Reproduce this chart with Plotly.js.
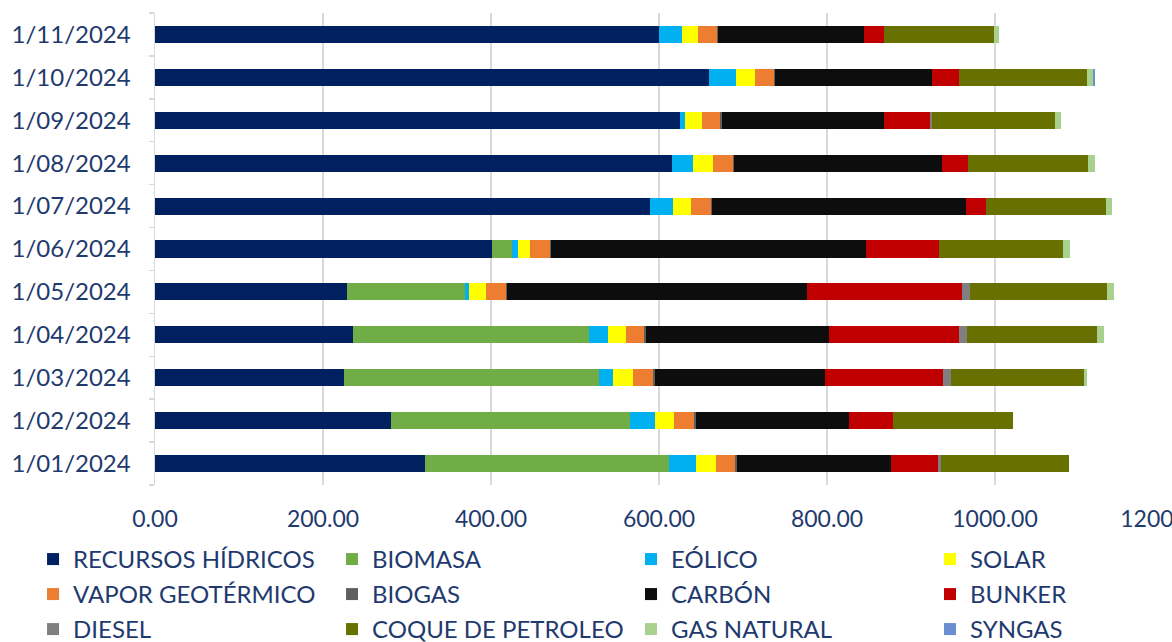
<!DOCTYPE html>
<html>
<head>
<meta charset="utf-8">
<script src="https://cdn.plot.ly/plotly-3.0.1.min.js"></script>
<style>html,body{margin:0;padding:0;background:#fff;}#chart{width:1172px;height:642px;}</style>
</head>
<body>
<div id="chart"></div>
<script>
const months = ["1/01/2024","1/02/2024","1/03/2024","1/04/2024","1/05/2024","1/06/2024","1/07/2024","1/08/2024","1/09/2024","1/10/2024","1/11/2024"];

const hidricos  = [321, 281, 225, 235.5, 229, 401, 589, 616, 625, 660, 600];
const biomasa   = [290.5, 284, 303, 281, 140, 24, 0, 0, 0, 0, 0];
const eolico    = [33, 30, 17, 23, 5, 7, 28, 25, 6, 32, 27];
const solar     = [23, 23, 24, 21.5, 20, 14, 21, 23, 20, 22, 20];
const vapor     = [23, 24, 24, 21.5, 24, 24, 24, 24, 22, 23, 22];
const biogas    = [2, 2.5, 2, 2, 1.5, 1.5, 1.5, 1.5, 1.5, 1.5, 1.5];
const carbon    = [184, 182, 203, 217.5, 357, 375, 301.5, 247.5, 193.5, 186.5, 173.5];
const bunker    = [56, 52.5, 139.5, 155, 184, 87, 24, 31, 55, 32, 24];
const diesel    = [3.5, 0, 10, 10, 10, 0, 0, 0, 2, 0, 0];
const coque     = [151.5, 142.5, 158, 155, 163, 148, 143, 143, 146, 152, 131];
const gasNat    = [0, 0, 4.5, 8, 8, 8, 7, 8, 8, 8, 6];
const syngas    = [0, 0, 0, 0, 0, 0, 0, 0, 0, 2, 0];

const seriesNames = ["RECURSOS HÍDRICOS","BIOMASA","EÓLICO","SOLAR","VAPOR GEOTÉRMICO","BIOGAS","CARBÓN","BUNKER","DIESEL","COQUE DE PETROLEO","GAS NATURAL","SYNGAS"];
const seriesValues = [hidricos, biomasa, eolico, solar, vapor, biogas, carbon, bunker, diesel, coque, gasNat, syngas];
const seriesColors = ["#002060","#70AD47","#00B0F0","#FFFF00","#ED7D31","#5F5F5F","#0D0D0D","#C00000","#808080","#687000","#A9D18E","#6A8FD0"];

const xTicks = [0, 200, 400, 600, 800, 1000, 1200];

const navy = "#1F3A6E";
const FONT = "Lato, 'Open Sans', sans-serif";
const legendIds = ["legend","legend2","legend3","legend4"];

const traces = seriesNames.map((name, i) => ({
  type: "bar",
  orientation: "h",
  name: name,
  y: months,
  x: seriesValues[i],
  marker: {color: seriesColors[i], line: {width: 0}},
  legend: legendIds[i % 4],
  legendgroup: "g" + i,
  hoverinfo: "skip"
}));

const legendXs = [0.0282, 0.2833, 0.5384, 0.7935];
function mkLegend(x) {
  return {
    xref: "container", yref: "container",
    x: x, xanchor: "left", y: 0.1636, yanchor: "top",
    orientation: "v",
    font: {family: FONT, size: 24, color: navy},
    bgcolor: "rgba(0,0,0,0)", borderwidth: 0,
    tracegroupgap: 0.8, itemclick: false, itemdoubleclick: false
  };
}

const layout = {
  width: 1172, height: 642,
  margin: {l: 155, r: 9, t: 13, b: 157, pad: 0, autoexpand: false},
  paper_bgcolor: "#ffffff", plot_bgcolor: "#ffffff",
  barmode: "stack", bargap: 0.6,
  font: {family: FONT, color: navy},
  showlegend: true,
  legend: mkLegend(legendXs[0]),
  legend2: mkLegend(legendXs[1]),
  legend3: mkLegend(legendXs[2]),
  legend4: mkLegend(legendXs[3]),
  xaxis: {
    range: [0, 1200], tickmode: "array", tickvals: xTicks,
    tickformat: ".2f",
    showgrid: true, gridcolor: "#D9D9D9", gridwidth: 1.5,
    zeroline: false, showline: false, ticks: "",
    tickfont: {family: FONT, size: 23, color: navy},
    ticklabelstandoff: 18, ticklabeloverflow: "allow",
    fixedrange: true, automargin: false
  },
  yaxis: {
    type: "category", categoryorder: "array", categoryarray: months,
    range: [-0.5, 10.5],
    showline: true, linecolor: "#D9D9D9", linewidth: 1.5,
    showgrid: false, zeroline: false,
    ticks: "outside", tickson: "boundaries", ticklen: 5, tickcolor: "#D9D9D9", tickwidth: 1.5,
    tickfont: {family: FONT, size: 24, color: navy},
    ticklabelstandoff: 18, fixedrange: true, automargin: false
  }
};

Plotly.newPlot("chart", traces, layout, {staticPlot: true, displayModeBar: false});
</script>
</body>
</html>
